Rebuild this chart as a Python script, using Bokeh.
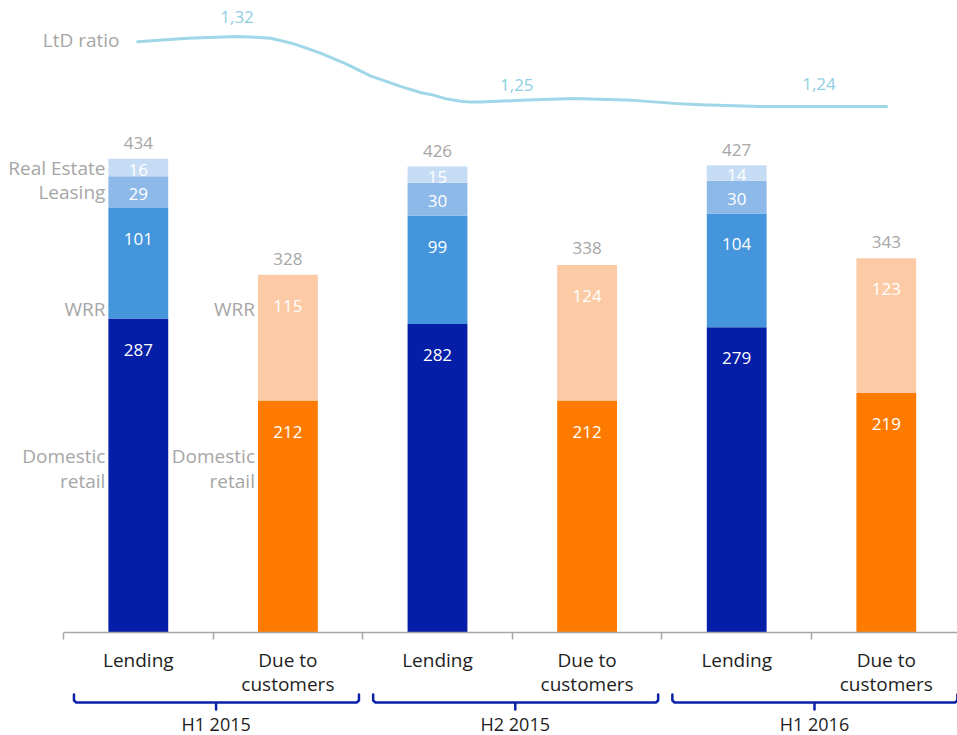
from bokeh.plotting import figure
from bokeh.models import ColumnDataSource, Range1d, FixedTicker
from bokeh.layouts import column
from bokeh.core.properties import value
from bokeh.embed import file_html
from bokeh.resources import INLINE

# ---------------- data ----------------
groups = ["H1 2015", "H2 2015", "H1 2016"]
bar_names = ["Lending", "Due to\ncustomers"]

lending_domestic_retail = [287, 282, 279]
lending_wrr = [101, 99, 104]
lending_leasing = [29, 30, 30]
lending_real_estate = [16, 15, 14]
lending_total = [434, 426, 427]

due_domestic_retail = [212, 212, 219]
due_wrr = [115, 124, 123]
due_total = [328, 338, 343]

ltd_ratio = [1.32, 1.25, 1.24]
ltd_label_x = [1.16, 3.03, 5.05]

# LtD ratio curve (x in category units, ratio)
ltd_curve_x = [0.495, 0.829, 1.163, 1.283, 1.384, 1.484, 1.551, 1.618, 1.718,
               1.885, 2.052, 2.253, 2.386, 2.473, 2.553, 2.654, 2.721, 2.787,
               3.055, 3.409, 3.810, 4.124, 4.258, 4.659, 4.926, 5.501]
ltd_curve_val = [1.314, 1.318, 1.320, 1.319, 1.318, 1.314, 1.311, 1.307, 1.301,
                 1.289, 1.275, 1.263, 1.256, 1.253, 1.249, 1.246, 1.245, 1.245,
                 1.247, 1.249, 1.247, 1.243, 1.242, 1.240, 1.240, 1.240]

# ---------------- style ----------------
FONT = value("Open Sans")
GRAY = "#a6a6a6"
DARK = "#1e1e1e"
C_DOM = "#041ea8"
C_WRR = "#4595dd"
C_LEA = "#8cb9e8"
C_RE = "#c6dcf4"
C_ORG = "#ff7b00"
C_ORG_L = "#fdcaa6"
C_LINE = "#9fd7e8"
C_LINE_TXT = "#8ecfe3"
C_BRACE = "#0a22a8"

PX_PER_CAT = 149.6
LEFT_PX = 63
PX_PER_UNIT = 1.094
BAR_W = 0.4

x_range = Range1d(-LEFT_PX / PX_PER_CAT, (957 - LEFT_PX) / PX_PER_CAT)
y_range = Range1d(0, 632 / PX_PER_UNIT)

p = figure(frame_width=957, frame_height=632, x_range=x_range, y_range=y_range,
           output_backend="svg", toolbar_location=None, y_axis_location=None,
           min_border_left=0, min_border_right=0, min_border_top=0,
           min_border_bottom=0, outline_line_color=None)
p.grid.visible = False
p.extra_y_ranges = {"ltd": Range1d(0.63886, 1.36114)}

lend_x = [2 * g + 0.5 for g in range(len(groups))]
due_x = [2 * g + 1.5 for g in range(len(groups))]

# stacked segments: (x, values, color, label mode)
stacks = [
    (lend_x, lending_domestic_retail, C_DOM, "top"),
    (lend_x, lending_wrr, C_WRR, "top"),
    (lend_x, lending_leasing, C_LEA, "mid"),
    (lend_x, lending_real_estate, C_RE, "mid"),
    (due_x, due_domestic_retail, C_ORG, "top"),
    (due_x, due_wrr, C_ORG_L, "top"),
]

seg = dict(x=[], bottom=[], top=[], color=[], lab=[], ly=[], dy=[])
base = {}
for xs, vals, color, mode in stacks:
    for x, v in zip(xs, vals):
        b = base.get(x, 0)
        t = b + v
        base[x] = t
        seg["x"].append(x)
        seg["bottom"].append(b)
        seg["top"].append(t)
        seg["color"].append(color)
        seg["lab"].append(str(v))
        if mode == "top":
            seg["ly"].append(t)
            seg["dy"].append(31)
        else:
            seg["ly"].append((b + t) / 2)
            seg["dy"].append(2)
seg_src = ColumnDataSource(seg)
p.vbar(x="x", bottom="bottom", top="top", width=BAR_W, color="color",
       line_color=None, source=seg_src)
p.text(x="x", y="ly", text="lab", y_offset="dy", source=seg_src,
       text_font=FONT, text_font_size="17px", text_color="#ffffff",
       text_align="center", text_baseline="middle")

# totals
tot_src = ColumnDataSource(dict(x=lend_x + due_x, y=lending_total + due_total,
                                t=[str(v) for v in lending_total + due_total]))
p.text(x="x", y="y", text="t", source=tot_src, y_offset=-15,
       text_font=FONT, text_font_size="17px", text_color=GRAY,
       text_align="center", text_baseline="middle")

# side labels (first group only)
re_mid = lending_domestic_retail[0] + lending_wrr[0] + lending_leasing[0] + lending_real_estate[0] / 2
lea_mid = lending_domestic_retail[0] + lending_wrr[0] + lending_leasing[0] / 2
WRR_LABEL_Y = 296
DOM_LABEL_Y = 150
lx = lend_x[0] - BAR_W / 2
dx = due_x[0] - BAR_W / 2
side_src = ColumnDataSource(dict(
    x=[lx, lx, lx, lx, dx, dx],
    y=[re_mid, lea_mid, WRR_LABEL_Y, DOM_LABEL_Y, WRR_LABEL_Y, DOM_LABEL_Y],
    t=["Real Estate", "Leasing", "WRR", "Domestic\nretail", "WRR", "Domestic\nretail"]))
p.text(x="x", y="y", text="t", source=side_src, x_offset=-3,
       text_font=FONT, text_font_size="19px", text_color=GRAY,
       text_align="right", text_baseline="middle", text_line_height=0.95)

# LtD ratio curve
p.line(ltd_curve_x, ltd_curve_val, y_range_name="ltd", line_color=C_LINE,
       line_width=3, line_join="round", line_cap="round")
p.text(x=[ltd_curve_x[0]], y=[ltd_curve_val[0]], text=["LtD ratio"],
       y_range_name="ltd", x_offset=-18, y_offset=-2,
       text_font=FONT, text_font_size="19px", text_color=GRAY,
       text_align="right", text_baseline="middle")
ltd_src = ColumnDataSource(dict(x=ltd_label_x, y=ltd_ratio,
                                t=[f"{v:.2f}".replace(".", ",") for v in ltd_ratio],
                                dy=[-19, -13, -22]))
p.text(x="x", y="y", text="t", y_offset="dy", source=ltd_src, y_range_name="ltd",
       text_font=FONT, text_font_size="17px", text_color=C_LINE_TXT,
       text_align="center", text_baseline="middle")

# category axis
ax = p.xaxis[0]
centers = sorted(lend_x + due_x)
ax.ticker = FixedTicker(ticks=centers, minor_ticks=list(range(0, 2 * len(groups) + 1)))
ax.major_label_overrides = {c: bar_names[i % 2] for i, c in enumerate(centers)}
ax.bounds = (0, 2 * len(groups))
ax.axis_line_color = GRAY
ax.axis_line_width = 1.5
ax.major_tick_out = 0
ax.major_tick_in = 0
ax.minor_tick_out = 7
ax.minor_tick_in = 0
ax.minor_tick_line_color = GRAY
ax.minor_tick_line_width = 1.5
ax.major_label_text_font = "Open Sans"
ax.major_label_text_font_size = "19px"
ax.major_label_text_color = DARK
ax.major_label_text_line_height = 0.94
ax.major_label_standoff = 7

# group braces + group labels (pulled up to sit right under the category labels)
q = figure(frame_width=957, frame_height=22, x_range=x_range, y_range=Range1d(0, 1),
           output_backend="svg", toolbar_location=None, y_axis_location=None,
           min_border_left=0, min_border_right=0, min_border_top=0,
           min_border_bottom=0, outline_line_color=None,
           background_fill_color=None, border_fill_color=None)
q.margin = (-10, 0, 0, 0)
q.grid.visible = False
bxs, bys = [], []
for g in range(len(groups)):
    x0, x1, xc = 2 * g + 0.07, 2 * g + 1.975, 2 * g + 1.02
    bxs.append([x0, x0, x0 + 0.015, xc, xc, xc, x1 - 0.015, x1, x1])
    bys.append([0.77, 0.5, 0.41, 0.41, 0.09, 0.41, 0.41, 0.5, 0.77])
q.multi_line(bxs, bys, line_color=C_BRACE, line_width=2.5,
             line_join="round", line_cap="round")
bx = q.xaxis[0]
gcent = [2 * g + 1.02 for g in range(len(groups))]
bx.ticker = FixedTicker(ticks=gcent)
bx.major_label_overrides = {c: groups[i] for i, c in enumerate(gcent)}
bx.axis_line_color = None
bx.major_tick_out = 0
bx.major_tick_in = 0
bx.minor_tick_out = 0
bx.minor_tick_in = 0
bx.major_label_text_font = "Open Sans"
bx.major_label_text_font_size = "18px"
bx.major_label_text_color = DARK
bx.major_label_standoff = 0

layout = column(p, q, spacing=0)
open("out.html", "w").write(file_html(layout, INLINE))
